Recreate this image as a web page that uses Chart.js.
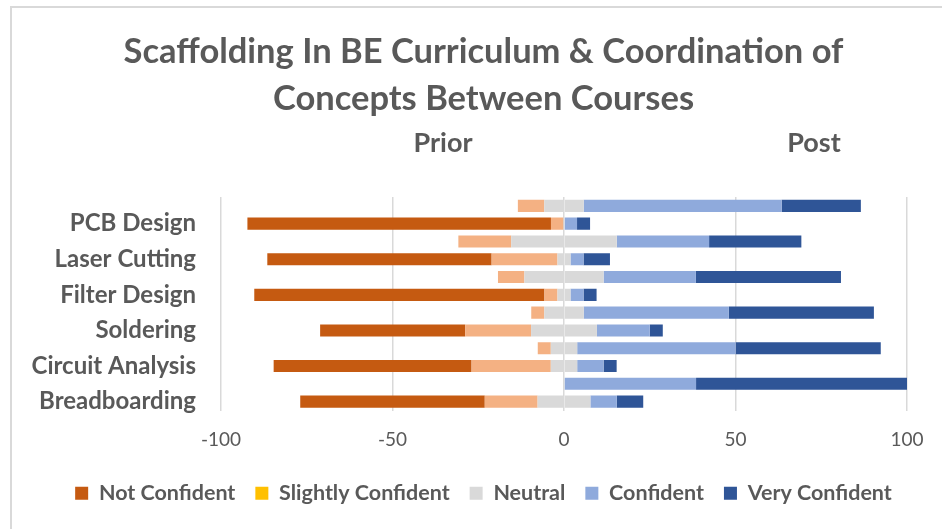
<!DOCTYPE html>
<html>
<head>
<meta charset="utf-8">
<script src="https://cdn.jsdelivr.net/npm/chart.js@4/dist/chart.umd.min.js"></script>
<style>
  html, body { margin: 0; padding: 0; background: #ffffff; }
  #wrap { position: relative; width: 942px; height: 529px; }
</style>
</head>
<body>
<div id="wrap"><canvas id="c" width="942" height="529"></canvas></div>
<script>
// ---- data (percent of respondents) ----
const categories = ["", "PCB Design", "", "Laser Cutting", "", "Filter Design", "", "Soldering", "", "Circuit Analysis", "", "Breadboarding"];
const rowKind    = ["Post", "Prior", "Post", "Prior", "Post", "Prior", "Post", "Prior", "Post", "Prior", "Post", "Prior"];
const notConfident      = [0, 88.5, 0, 65.4, 0, 84.6, 0, 42.3, 0, 57.7, 0, 53.8];
const slightlyConfident = [7.7, 3.8, 15.4, 19.2, 7.7, 3.8, 3.8, 19.2, 3.8, 23.1, 0, 15.4];
const neutral           = [11.5, 0, 30.8, 3.8, 23.1, 3.8, 11.5, 19.2, 7.7, 7.7, 0, 15.4];
const confident         = [57.7, 3.8, 26.9, 3.8, 26.9, 3.8, 42.3, 15.4, 46.2, 7.7, 38.5, 7.7];
const veryConfident     = [23.1, 3.8, 26.9, 7.7, 42.3, 3.8, 42.3, 3.8, 42.3, 3.8, 61.5, 7.7];
const xTickValues = [-100, -50, 0, 50, 100];
const columnHeaders = ["Prior", "Post"];

const FONT = "Lato, 'Open Sans', 'DejaVu Sans', sans-serif";
const TXT = "#595959";

// legend order rank (dataset index -> position)
const legendRank = [2, 1, 0, 5, 3, 4];

const datasets = [
  { label: "Neutral", data: neutral.map(v => -v / 2), backgroundColor: "#D9D9D9" },
  { label: "Slightly Confident", data: slightlyConfident.map(v => -v), backgroundColor: "#F4B183" },
  { label: "Not Confident", data: notConfident.map(v => -v), backgroundColor: "#C55A11" },
  { label: "Neutral ", data: neutral.map(v => v / 2), backgroundColor: "#D9D9D9", hideInLegend: true },
  { label: "Confident", data: confident, backgroundColor: "#8FAADC" },
  { label: "Very Confident", data: veryConfident, backgroundColor: "#2F5597" }
].map(d => Object.assign({ borderWidth: 0, barPercentage: 0.68, categoryPercentage: 1.0 }, d));

const framePlugin = {
  id: "frame",
  afterLayout(chart) {
    // centre title and legend on the (wider) original chart frame
    const dx = 30;
    [chart.titleBlock, chart.legend].forEach(b => { if (b) { b.left += dx; b.right += dx; } });
  },
  beforeDraw(chart) {
    const ctx = chart.ctx;
    ctx.save();
    ctx.fillStyle = "#ffffff";
    ctx.fillRect(0, 0, chart.width, chart.height);
    ctx.strokeStyle = "#D9D9D9";
    ctx.lineWidth = 2;
    ctx.beginPath();
    ctx.moveTo(11, chart.height);
    ctx.lineTo(11, 7);
    ctx.lineTo(chart.width, 7);
    ctx.stroke();
    ctx.restore();
  }
};

const headersPlugin = {
  id: "headers",
  afterDraw(chart) {
    const ctx = chart.ctx;
    ctx.save();
    ctx.fillStyle = TXT;
    ctx.font = "bold 27px " + FONT;
    ctx.textAlign = "center";
    ctx.textBaseline = "middle";
    ctx.fillText(columnHeaders[0], 443, 143);
    ctx.fillText(columnHeaders[1], 814, 143);
    ctx.restore();
  }
};

new Chart(document.getElementById("c"), {
  type: "bar",
  data: { labels: categories, datasets: datasets },
  plugins: [framePlugin, headersPlugin],
  options: {
    indexAxis: "y",
    responsive: false,
    animation: false,
    layout: { padding: { left: 0, right: 35, top: 0, bottom: 15 } },
    scales: {
      x: {
        stacked: true,
        min: -100,
        max: 100,
        afterBuildTicks(scale) { scale.ticks = xTickValues.map(v => ({ value: v })); },
        afterFit(scale) { scale.height = 52; },
        grid: { color: "#D9D9D9", lineWidth: 1.5, drawTicks: false },
        border: { display: false },
        ticks: { color: TXT, font: { family: FONT, size: 19 }, padding: 18 }
      },
      y: {
        stacked: true,
        afterFit(scale) { scale.width = 221; },
        grid: { display: false },
        border: { display: false },
        ticks: { color: TXT, font: { family: FONT, size: 24, weight: "bold" }, padding: 17, autoSkip: false }
      }
    },
    plugins: {
      title: {
        display: true,
        text: ["Scaffolding In BE Curriculum & Coordination of", "Concepts Between Courses"],
        color: TXT,
        font: { family: FONT, size: 34.5, weight: "bold", lineHeight: 1.362 },
        padding: { top: 28.5, bottom: 74.5 }
      },
      legend: {
        position: "bottom",
        labels: {
          color: TXT,
          font: { family: FONT, size: 21.5, weight: "bold" },
          boxWidth: 13,
          boxHeight: 13,
          padding: 20,
          filter: (item, data) => !data.datasets[item.datasetIndex].hideInLegend,
          sort: (a, b) => legendRank[a.datasetIndex] - legendRank[b.datasetIndex],
          generateLabels(chart) {
            const items = Chart.defaults.plugins.legend.labels.generateLabels(chart);
            items.forEach(it => {
              if (it.text === "Slightly Confident") { it.fillStyle = "#FFC000"; }
              it.strokeStyle = it.fillStyle;
              it.lineWidth = 0;
            });
            return items;
          }
        }
      },
      tooltip: { enabled: false }
    }
  }
});
</script>
</body>
</html>
